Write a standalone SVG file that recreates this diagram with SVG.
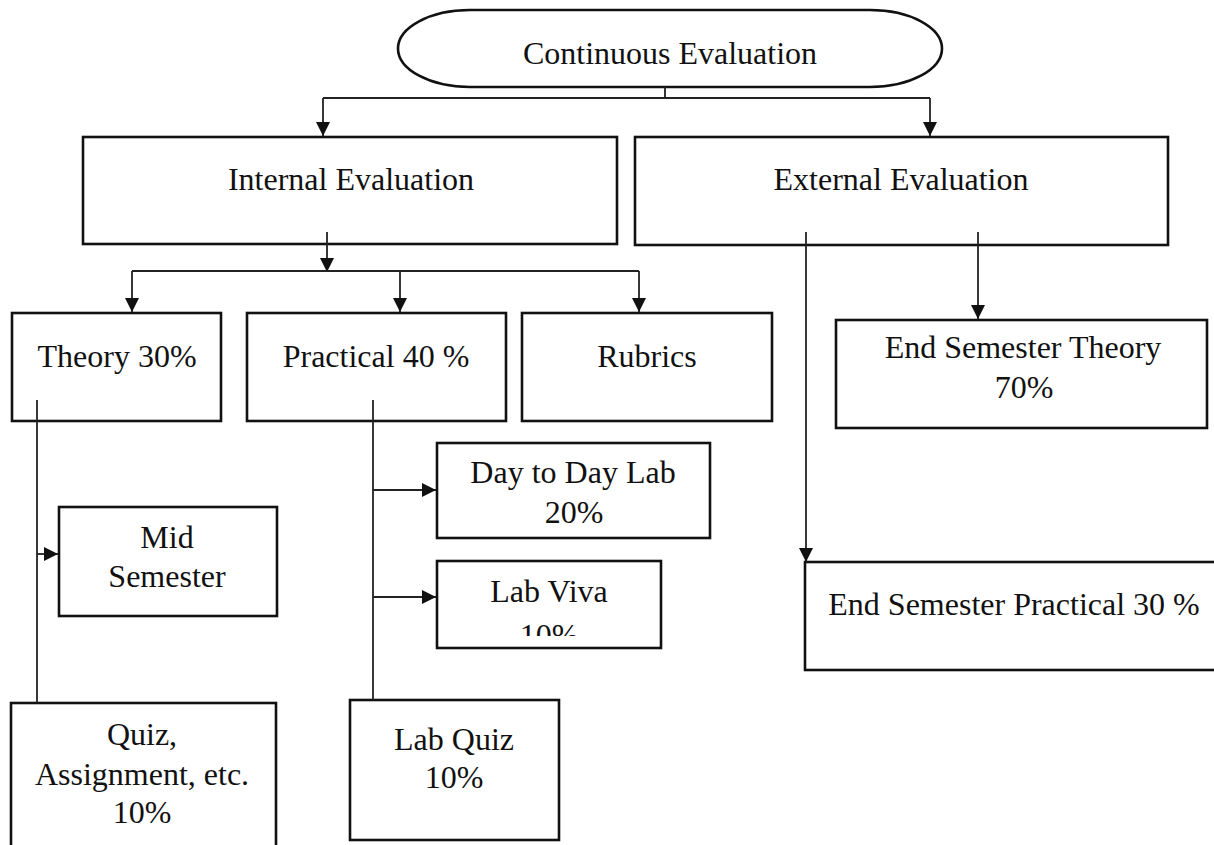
<svg xmlns="http://www.w3.org/2000/svg" width="1214" height="845" viewBox="0 0 1214 845">
<style>
.box{fill:#fff;stroke:#111;stroke-width:2.6}
.t{font-family:"Liberation Serif","Times New Roman",serif;font-size:32px;fill:#111;text-anchor:middle}
.c{fill:none;stroke:#222;stroke-width:1.8}
</style>
<defs>
<marker id="ah" markerUnits="userSpaceOnUse" markerWidth="14" markerHeight="16" viewBox="0 0 14 16" refX="14" refY="8" orient="auto">
<path d="M0,1 L14,8 L0,15 Z" fill="#111"/>
</marker>
<clipPath id="vivaClip"><rect x="437" y="561" width="224" height="75"/></clipPath>
</defs>
<rect width="1214" height="845" fill="#fff"/>
<g id="continuous-evaluation">
<rect class="box" x="398" y="10" width="544" height="77" rx="72" ry="38.5"/>
<text class="t" x="670" y="64">Continuous Evaluation</text>
</g>
<g id="internal-evaluation">
<rect class="box" x="83" y="137" width="534" height="107"/>
<text class="t" x="351" y="190">Internal Evaluation</text>
</g>
<g id="external-evaluation">
<rect class="box" x="635" y="137" width="533" height="108"/>
<text class="t" x="901" y="190">External Evaluation</text>
</g>
<g id="theory">
<rect class="box" x="12" y="313" width="209" height="108"/>
<text class="t" x="117" y="367">Theory 30%</text>
</g>
<g id="practical">
<rect class="box" x="247" y="313" width="259" height="108"/>
<text class="t" x="376" y="367">Practical 40 %</text>
</g>
<g id="rubrics">
<rect class="box" x="522" y="313" width="250" height="108"/>
<text class="t" x="647" y="367">Rubrics</text>
</g>
<g id="end-semester-theory">
<rect class="box" x="836" y="320" width="371" height="108"/>
<text class="t" x="1023" y="358">End Semester Theory</text>
<text class="t" x="1024" y="398">70%</text>
</g>
<g id="day-to-day-lab">
<rect class="box" x="437" y="443" width="273" height="95"/>
<text class="t" x="573" y="483">Day to Day Lab</text>
<text class="t" x="574" y="523">20%</text>
</g>
<g id="mid-semester">
<rect class="box" x="59" y="507" width="218" height="109"/>
<text class="t" x="167" y="548">Mid</text>
<text class="t" x="167" y="587">Semester</text>
</g>
<g id="lab-viva">
<rect class="box" x="437" y="561" width="224" height="87"/>
<text class="t" x="549" y="602">Lab Viva</text>
<text class="t" x="549" y="646" clip-path="url(#vivaClip)">10%</text>
</g>
<g id="end-semester-practical">
<rect class="box" x="805" y="562" width="420" height="108"/>
<text class="t" x="1014" y="615">End Semester Practical 30 %</text>
</g>
<g id="quiz-assignment">
<rect class="box" x="11" y="703" width="265" height="150"/>
<text class="t" x="142" y="745">Quiz,</text>
<text class="t" x="142" y="785">Assignment, etc.</text>
<text class="t" x="142" y="823">10%</text>
</g>
<g id="lab-quiz">
<rect class="box" x="350" y="700" width="209" height="140"/>
<text class="t" x="454" y="750">Lab Quiz</text>
<text class="t" x="454" y="788">10%</text>
</g>
<g id="connectors">
<path class="c" d="M665,87 V98 M323,98 H930"/>
<path class="c" d="M323,98 V136" marker-end="url(#ah)"/>
<path class="c" d="M930,98 V136" marker-end="url(#ah)"/>
<path class="c" d="M327,232 V272" marker-end="url(#ah)"/>
<path class="c" d="M132,271 H639"/>
<path class="c" d="M132,271 V312" marker-end="url(#ah)"/>
<path class="c" d="M400,271 V312" marker-end="url(#ah)"/>
<path class="c" d="M639,271 V312" marker-end="url(#ah)"/>
<path class="c" d="M37,400 V703"/>
<path class="c" d="M37,554 H58" marker-end="url(#ah)"/>
<path class="c" d="M373,400 V700"/>
<path class="c" d="M373,490 H436" marker-end="url(#ah)"/>
<path class="c" d="M373,597 H436" marker-end="url(#ah)"/>
<path class="c" d="M806,232 V562" marker-end="url(#ah)"/>
<path class="c" d="M978,232 V319" marker-end="url(#ah)"/>
</g>
</svg>
